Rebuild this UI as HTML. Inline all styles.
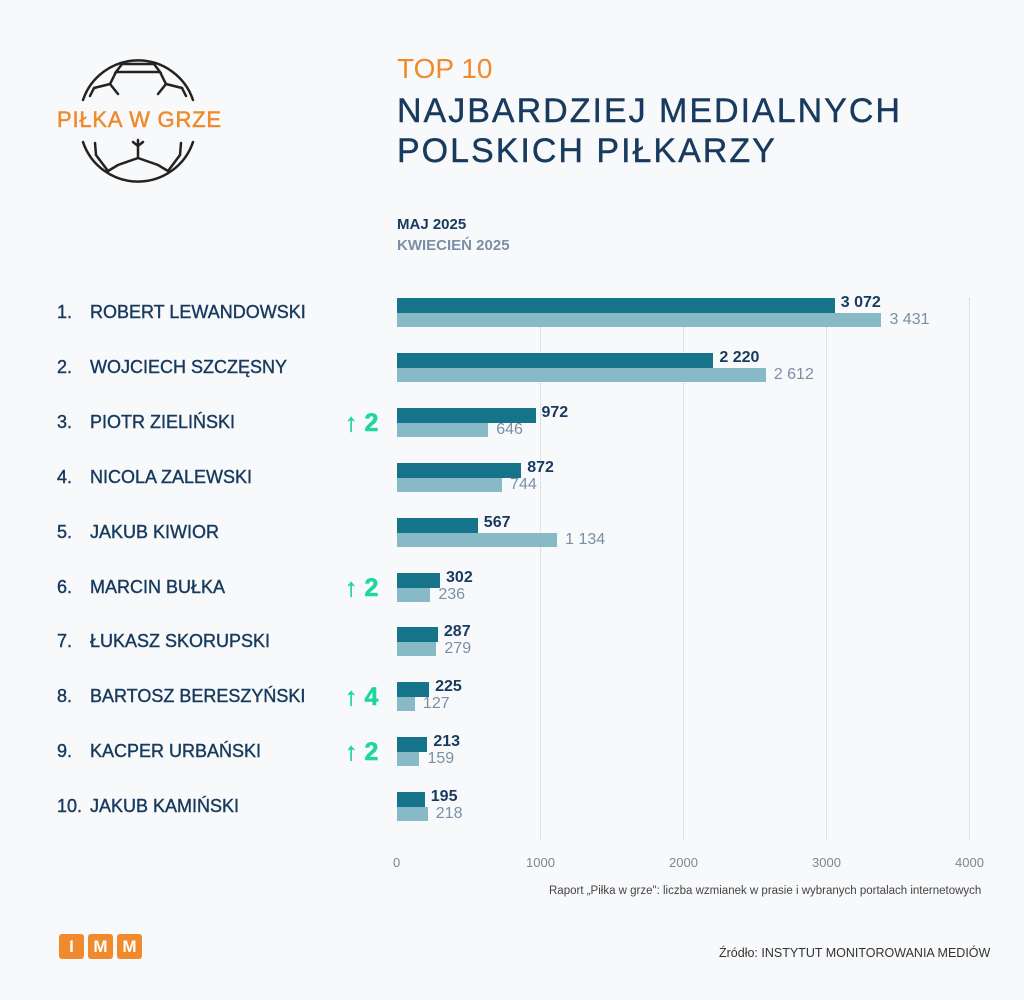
<!DOCTYPE html>
<html><head><meta charset="utf-8"><style>
body{margin:0;background:#f8f9fb;font-family:"Liberation Sans",sans-serif;}
.w{position:relative;width:1024px;height:1000px;overflow:hidden;background:#f8f9fb;}
.a{position:absolute;white-space:nowrap;}
.nm{color:#173a5e;font-size:18px;-webkit-text-stroke:0.4px #173a5e;}
.v1{color:#173a5e;font-size:16px;font-weight:bold;}
.v2{color:#7a8fa6;font-size:16px;}
.b1{position:absolute;height:15px;background:#15748a;left:397px;}
.b2{position:absolute;height:14px;background:#88b9c6;left:397px;}
.up{color:#1fd6a0;font-size:25px;font-weight:bold;-webkit-text-stroke:0.6px #1fd6a0;}
.g{position:absolute;top:298px;height:542px;border-left:1px dotted #c8cdd4;}
.ax{color:#7d8590;font-size:13px;top:855px;}
.box{position:absolute;top:934px;width:25px;height:25px;background:#f08a2c;border-radius:3px;color:#fff;font-weight:bold;font-size:17px;text-align:center;line-height:25px;}
</style></head><body><div class="w">
<svg class="a" style="left:0;top:0" width="260" height="200" viewBox="0 0 260 200">
<g fill="none" stroke="#222" stroke-width="2.5" stroke-linecap="round">
<path d="M83 100 A58 58 0 0 1 193 100"/>
<path d="M83 142 A58 58 0 0 0 193 142"/>
<path d="M122 64 L154 64 L160 72 L116 72 Z"/>
<path d="M116 72 L110 84 L94 88 M110 84 L118 94 M160 72 L166 84 L182 88 M166 84 L158 94"/>
<path d="M94 88 L90 96 M182 88 L186 96"/>
<path d="M138 140 L138 158 L118 165 L108 171 M138 158 L158 165 L168 171 M133 142 L138 146 L143 142"/>
<path d="M95 143 L96 155 L108 171 M181 143 L180 155 L168 171"/>
</g>
<text x="57" y="127" fill="#f08a2c" stroke="#f08a2c" stroke-width="0.5" font-size="22" font-family="Liberation Sans" letter-spacing="0.8">PIŁKA W GRZE</text>
</svg>
<div class="a" style="left:397px;top:53px;color:#f08a2c;font-size:28px;">TOP 10</div>
<div class="a" style="left:397px;top:91px;color:#173a5e;font-size:34px;letter-spacing:2px;line-height:40px;-webkit-text-stroke:0.4px #173a5e;">NAJBARDZIEJ MEDIALNYCH<br>POLSKICH PIŁKARZY</div>
<div class="a" style="left:397px;top:216px;color:#173a5e;font-size:15px;font-weight:bold;">MAJ 2025</div>
<div class="a" style="left:397px;top:237px;color:#7a8fa6;font-size:15px;font-weight:bold;">KWIECIEŃ 2025</div>
<div class="g" style="left:540px"></div><div class="g" style="left:683px"></div><div class="g" style="left:826px"></div><div class="g" style="left:969px"></div>
<div class="a ax" style="left:393px">0</div><div class="a ax" style="left:526px">1000</div><div class="a ax" style="left:669px">2000</div><div class="a ax" style="left:812px">3000</div><div class="a ax" style="left:955px">4000</div>
<div id="rows"></div>
<div class="a" style="left:549px;top:885px;color:#444;font-size:11.5px;">Raport „Piłka w grze": liczba wzmianek w prasie i wybranych portalach internetowych</div>
<div class="a" style="left:719px;top:946px;color:#333;font-size:12.5px;">Źródło: INSTYTUT MONITOROWANIA MEDIÓW</div>
<div class="box" style="left:59px">I</div><div class="box" style="left:88px">M</div><div class="box" style="left:117px">M</div>
<script>
var d=[["ROBERT LEWANDOWSKI",3072,3431,"3 072","3 431",""],["WOJCIECH SZCZĘSNY",2220,2612,"2 220","2 612",""],["PIOTR ZIELIŃSKI",972,646,"972","646","2"],["NICOLA ZALEWSKI",872,744,"872","744",""],["JAKUB KIWIOR",567,1134,"567","1 134",""],["MARCIN BUŁKA",302,236,"302","236","2"],["ŁUKASZ SKORUPSKI",287,279,"287","279",""],["BARTOSZ BERESZYŃSKI",225,127,"225","127","4"],["KACPER URBAŃSKI",213,159,"213","159","2"],["JAKUB KAMIŃSKI",195,218,"195","218",""]];
var h="";d.forEach(function(r,i){var t=298+i*54.9,w1=r[1]*0.1425,w2=r[2]*0.1412;
h+='<div class="a nm" style="left:57px;top:'+(t+4)+'px">'+(i+1)+'.</div><div class="a nm" style="left:90px;top:'+(t+4)+'px">'+r[0]+'</div>';
h+='<div class="b1" style="top:'+t+'px;width:'+w1+'px"></div><div class="b2" style="top:'+(t+15)+'px;width:'+w2+'px"></div>';
h+='<div class="a v1" style="left:'+(403+w1)+'px;top:'+(t-4)+'px">'+r[3]+'</div><div class="a v2" style="left:'+(405+w2)+'px;top:'+(t+13)+'px">'+r[4]+'</div>';
if(r[5])h+='<div class="a up" style="left:345px;top:'+(t+1)+'px">↑ '+r[5]+'</div>';});
document.getElementById("rows").innerHTML=h;
</script>
</div></body></html>
